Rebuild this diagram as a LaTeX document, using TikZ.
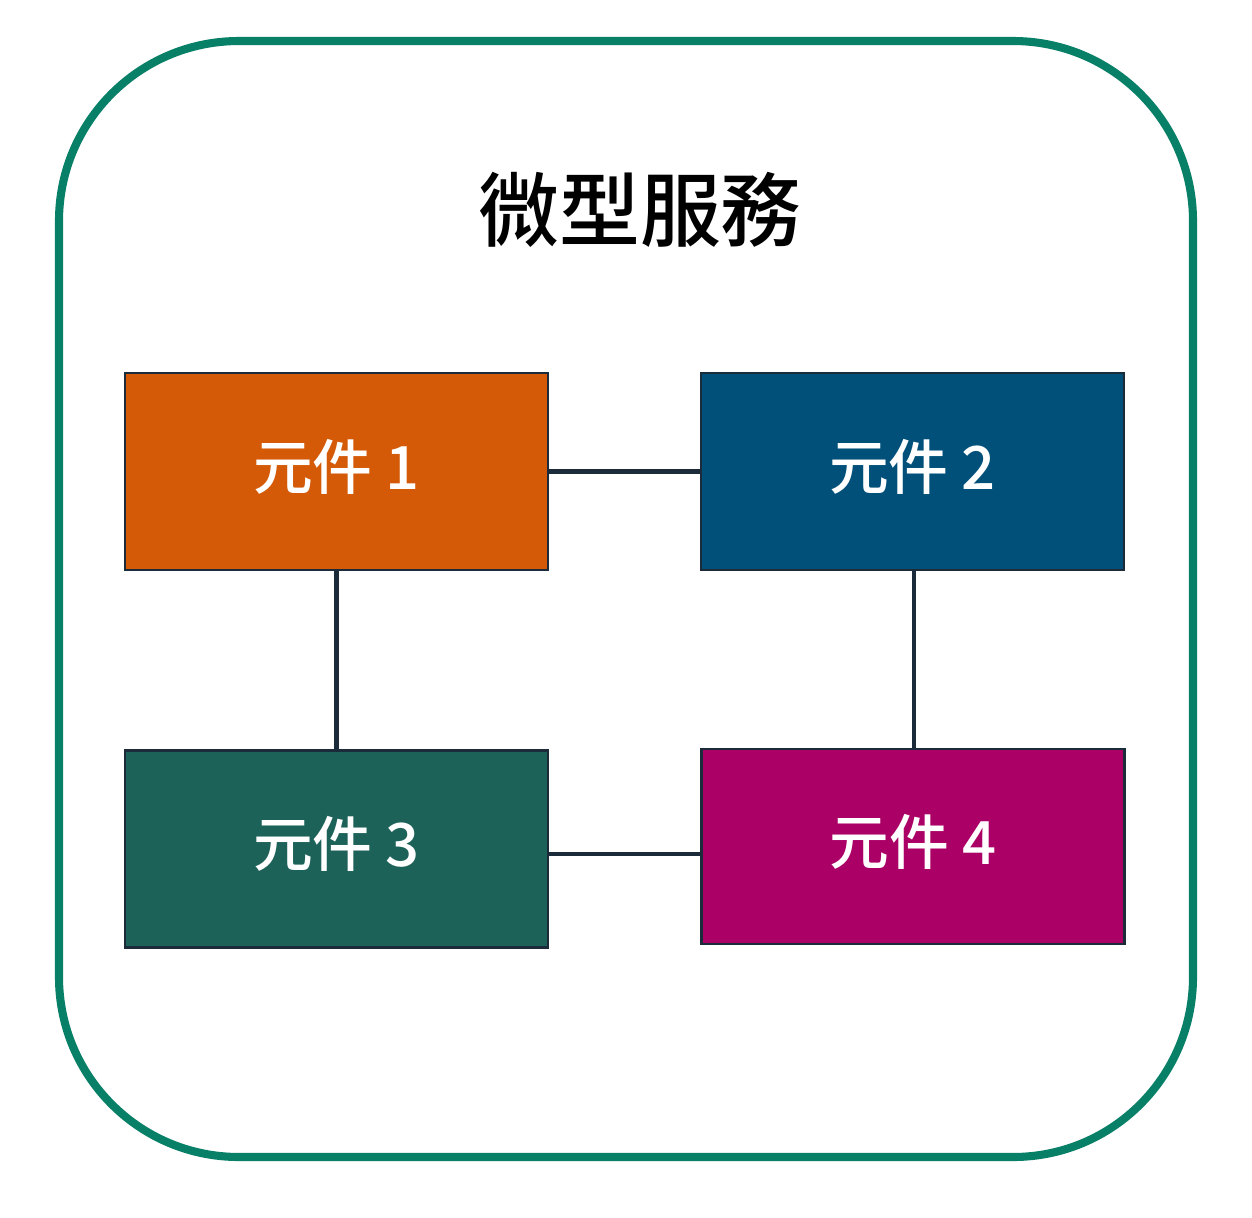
\documentclass[tikz,border=0pt]{standalone}
\usepackage{fontspec}
\newfontfamily\cjk{Noto Sans CJK TC}[UprightFont={* Medium}]
\newfontfamily\cjktitle{Noto Sans CJK TC}[UprightFont={* Medium}]
\definecolor{frame}{HTML}{087F67}
\definecolor{edge}{HTML}{1C2B39}
\definecolor{c1}{HTML}{D45A07}
\definecolor{c2}{HTML}{00507A}
\definecolor{c3}{HTML}{1D6259}
\definecolor{c4}{HTML}{AB0066}
\tikzset{
  comp/.style={draw=edge, line width=1.6pt, minimum width=8.46cm, minimum height=3.94cm,
    inner sep=0pt},
  lbl/.style={text=white, font=\cjk\fontsize{34}{40}\selectfont, inner sep=0pt},
  link/.style={draw=edge, line width=2.3pt}
}
\begin{document}
\begin{tikzpicture}[x=0.02cm, y=-0.02cm]
\useasboundingbox (0,0) rectangle (1252,1218);
\draw[frame, line width=4.6pt, rounded corners=3.6cm] (59,41) rectangle (1193,1157);
\node[font=\cjktitle\fontsize{46}{52}\selectfont] (title) at (640,210) {微型服務};
\node[comp, fill=c1] (b1) at (336.5,471.5) {};
\node[comp, fill=c2] (b2) at (912.5,471.5) {};
\node[comp, fill=c3] (b3) at (336.5,849) {};
\node[comp, fill=c4, minimum height=3.9cm] (b4) at (913,846.5) {};
\node[lbl] (t1) at ([yshift=0.1cm]b1.center) {元件 1};
\node[lbl] (t2) at ([yshift=0.1cm]b2.center) {元件 2};
\node[lbl] (t3) at ([yshift=0.1cm]b3.center) {元件 3};
\node[lbl] (t4) at ([yshift=0.1cm]b4.center) {元件 4};
\draw[link] (b1.east) -- (b2.west);
\draw[link] (b1.south) -- (b3.north);
\draw[link] (b2.south -| 914,0) -- (b4.north -| 914,0);
\draw[link] (b3.east) ++(0,5) coordinate (s34) -- (s34 -| b4.west);
\end{tikzpicture}
\end{document}
